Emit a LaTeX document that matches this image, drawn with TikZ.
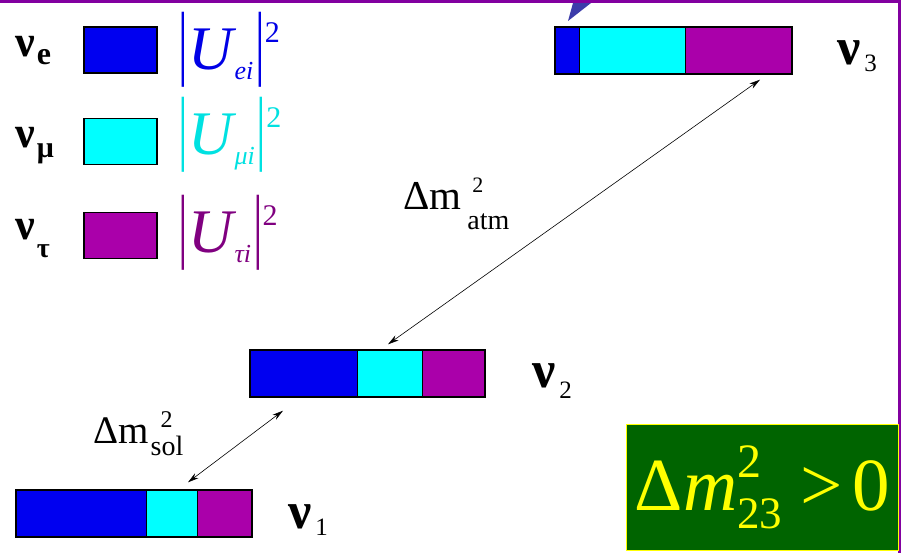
\documentclass[tikz,border=0pt]{standalone}
\usepackage{fontspec}
\setmainfont{Liberation Serif}
\usepackage{graphicx}
\usetikzlibrary{arrows.meta}

\definecolor{barblue}{RGB}{0,0,240}
\definecolor{barcyan}{RGB}{0,255,255}
\definecolor{barpurple}{RGB}{170,0,170}
\definecolor{ublue}{RGB}{0,0,230}
\definecolor{ucyan}{RGB}{0,225,225}
\definecolor{upurple}{RGB}{128,0,128}
\definecolor{framepurple}{RGB}{130,0,160}
\definecolor{calloutblue}{RGB}{60,60,170}
\definecolor{condgreen}{RGB}{0,100,0}
\definecolor{condyellow}{RGB}{255,255,0}

\newcommand{\fs}[1]{\fontsize{#1}{#1}\selectfont}
% flavour label: sub, drop, sub size
\newcommand{\flav}[3]{{\fs{44}\bfseries ν}\hspace{2pt}\raisebox{-#2}{\fs{#3}\bfseries #1}}
% mass label: sub, drop
\newcommand{\mass}[2]{{\fs{52}\bfseries ν}\hspace{4pt}\raisebox{-#2}{\fs{25}#1}}
% mixing element |U|^2
\newcommand{\usq}[1]{\scalebox{1}[1.72]{\fs{48}|}\hspace{1pt}{\fs{62}\itshape U}\hspace{1pt}%
  \raisebox{-10pt}{\fs{26}\itshape #1}\hspace{2pt}\scalebox{1}[1.72]{\fs{48}|}\raisebox{27pt}{\fs{30}2}}

\begin{document}
\begin{tikzpicture}[x=1pt,y=-1pt,
  legbox/.style={draw,line width=1.4pt,minimum width=73,minimum height=46,inner sep=0},
  massbar/.style={draw,line width=1.4pt,inner sep=0},
  gap/.style={{Stealth[length=11pt,width=6pt]}-{Stealth[length=11pt,width=6pt]},line width=0.6pt},
  lab/.style={anchor=base west,inner sep=0},
  condbox/.style={draw=condyellow,fill=condgreen,line width=1.5pt,inner sep=0,
    minimum width=272,minimum height=126,text=condyellow}]
  \useasboundingbox (0,0) rectangle (901,553);
  \fill[white] (0,0) rectangle (901,553);

  % frame and callout tip
  \fill[calloutblue] (568,21) -- (573,3) -- (591,3) -- cycle;
  \fill[framepurple] (0,0) rectangle (901,3);
  \fill[framepurple] (898,0) rectangle (901,553);

  % legend
  \foreach \n/\y/\c in {e/50/barblue,mu/141.5/barcyan,tau/235.5/barpurple}
    \node[legbox,fill=\c] (box-\n) at (120.5,\y) {};
  \node[lab] (nu-e) at (15,57) {\flav{e}{8pt}{32}};
  \node[lab] (nu-mu) at (15,148) {\flav{μ}{10pt}{30}};
  \node[lab] (nu-tau) at (15,240) {\flav{τ}{18pt}{28}};
  \node[lab,text=ublue] (u-e) at (178,70) {\usq{ei}};
  \node[lab,text=ucyan] (u-mu) at (178,155) {\usq{μi}};
  \node[lab,text=upurple] (u-tau) at (178,252) {\usq{τi}};

  % mass states
  \foreach \l/\a/\b/\c/\d/\t/\bt in {3/555/579/685/792/27/74,
      2/250/357/422/485/350/397, 1/16/146/197/252/490/537} {
    \fill[barblue] (\a,\t) rectangle (\b,\bt);
    \fill[barcyan] (\b,\t) rectangle (\c,\bt);
    \fill[barpurple] (\c,\t) rectangle (\d,\bt);
    \draw[line width=0.8pt] (\b,\t) -- (\b,\bt) (\c,\t) -- (\c,\bt);
    \node[massbar,minimum width=\d-\a,minimum height=\bt-\t]
      (m\l) at ({(\a+\d)/2},{(\t+\bt)/2}) {};
  }
  \node[lab] (nu3) at (837,65) {\mass{3}{7pt}};
  \node[lab] (nu2) at (532,387) {\mass{2}{11pt}};
  \node[lab] (nu1) at (288,528) {\mass{1}{7pt}};

  % splittings
  \draw[gap] ([xshift=86.5pt,yshift=-5pt]m3.south) -- ([xshift=20.5pt,yshift=5pt]m2.north);
  \draw[gap] ([xshift=-84.5pt,yshift=-13pt]m2.south) -- ([xshift=54pt,yshift=7pt]m1.north);
  \node[lab] (atm) at (403,210) {\fs{41}Δm\hspace{6pt}\rlap{\hspace{5pt}\raisebox{17pt}{\fs{22}2}}\raisebox{-20pt}{\fs{28}atm}};
  \node[lab] (sol) at (93,443) {\fs{39}Δm\hspace{2pt}\rlap{\hspace{10pt}\raisebox{16pt}{\fs{24}2}}\raisebox{-12pt}{\fs{28}sol}};

  % ordering
  \node[condbox] (cond) at (762.5,487.5)
    {\fs{75}Δ\textit{m}\rlap{\raisebox{33pt}{\fs{48}2}}\raisebox{-18pt}{\fs{45}23}\hspace{18pt}>\hspace{10pt}0};
\end{tikzpicture}
\end{document}
